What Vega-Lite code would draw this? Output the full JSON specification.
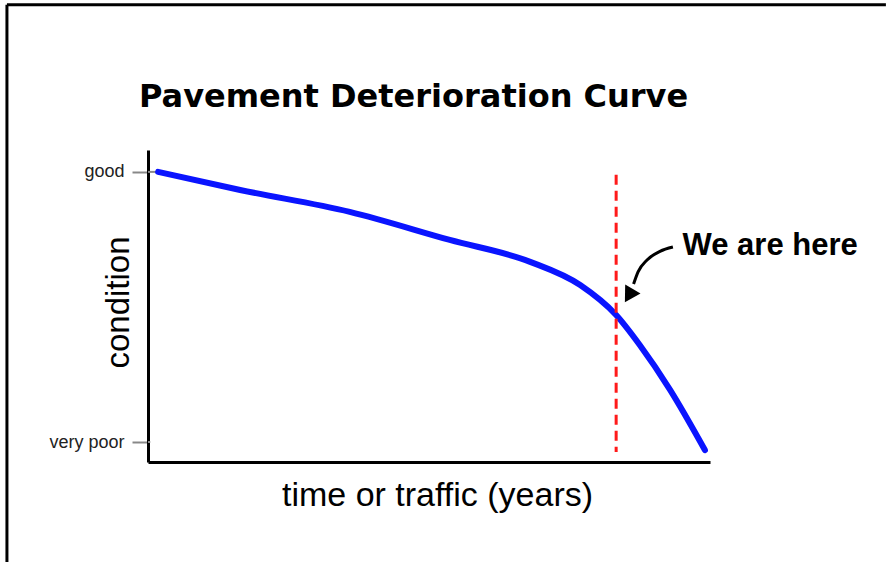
{
  "$schema": "https://vega.github.io/schema/vega-lite/v6.json",
  "width": 562,
  "height": 312,
  "autosize": "none",
  "padding": {"left": 148, "top": 150, "right": 176, "bottom": 100},
  "background": "white",
  "config": {"view": {"stroke": null}, "font": "Liberation Sans"},
  "title": {
    "text": "Pavement Deterioration Curve",
    "font": "DejaVu Sans",
    "fontWeight": "bold",
    "fontSize": 32,
    "anchor": "start",
    "frame": "group",
    "dx": -9,
    "offset": -136,
    "baseline": "alphabetic",
    "color": "black"
  },
  "datasets": {
    "curve": [
      {"x": 1.8, "y": 100},
      {"x": 16.4, "y": 93.3},
      {"x": 35.9, "y": 85.2},
      {"x": 53.7, "y": 74.8},
      {"x": 68.0, "y": 66.7},
      {"x": 76.9, "y": 58.1},
      {"x": 83.3, "y": 47.0},
      {"x": 87.5, "y": 35.9},
      {"x": 92.9, "y": 19.3},
      {"x": 99.1, "y": -3.0}
    ],
    "now": [{"x": 83.3, "y": 98.9, "y2": -3.7}],
    "arrow": [
      {"order": 1, "x": 93.4, "y": 72.2},
      {"order": 2, "x": 91.1, "y": 70.6},
      {"order": 3, "x": 88.8, "y": 67.4},
      {"order": 4, "x": 87.2, "y": 63.0},
      {"order": 5, "x": 86.4, "y": 58.5}
    ],
    "arrowhead": [{"x": 85.8, "y": 55.0}],
    "label": [{"x": 110.7, "y": 69.3, "text": "We are here"}],
    "frame": [
      {"x": -25.1, "x2": 131.3, "y": 161.9, "y2": 161.9},
      {"x": -25.1, "x2": -25.1, "y": 161.9, "y2": -44.4}
    ],
    "innerticks": [
      {"x": 0, "x2": 2.1, "y": 100, "y2": 100},
      {"x": 0, "x2": 0.4, "y": 0, "y2": 0}
    ]
  },
  "encoding": {
    "x": {
      "field": "x",
      "type": "quantitative",
      "scale": {"domain": [0, 100], "nice": false, "zero": false},
      "axis": {
        "title": "time or traffic (years)",
        "titleFont": "Liberation Sans",
        "titleFontSize": 34,
        "titleFontWeight": "normal",
        "titleColor": "black",
        "titleX": 289,
        "titleY": 43,
        "titleBaseline": "alphabetic",
        "titleAlign": "center",
        "labels": false,
        "ticks": false,
        "grid": false,
        "domainColor": "black",
        "domainWidth": 3
      }
    },
    "y": {
      "field": "y",
      "type": "quantitative",
      "scale": {"domain": [-7.4, 108.1], "nice": false, "zero": false},
      "axis": {
        "title": "condition",
        "titleFont": "Liberation Sans",
        "titleFontSize": 33,
        "titleFontWeight": "normal",
        "titleColor": "black",
        "titleAngle": -90,
        "titleX": -20,
        "titleY": 152,
        "titleBaseline": "alphabetic",
        "titleAlign": "center",
        "values": [0, 100],
        "labelExpr": "datum.value == 100 ? 'good' : 'very poor'",
        "labelFont": "Liberation Sans",
        "labelFontSize": 18,
        "labelColor": "#222",
        "labelPadding": 8,
        "tickColor": "#888",
        "tickSize": 16,
        "tickWidth": 2,
        "grid": false,
        "domainColor": "black",
        "domainWidth": 3
      }
    }
  },
  "layer": [
    {
      "data": {"name": "innerticks"},
      "mark": {"type": "rule", "color": "#888", "strokeWidth": 2},
      "encoding": {"x2": {"field": "x2"}, "y2": {"field": "y2"}}
    },
    {
      "data": {"name": "curve"},
      "mark": {"type": "line", "color": "#0a14ff", "strokeWidth": 6, "interpolate": "monotone", "strokeCap": "round"}
    },
    {
      "data": {"name": "now"},
      "mark": {"type": "rule", "color": "#ff1a1a", "strokeWidth": 3, "strokeDash": [10, 6]},
      "encoding": {"y2": {"field": "y2"}}
    },
    {
      "data": {"name": "arrow"},
      "mark": {"type": "line", "color": "black", "strokeWidth": 3, "interpolate": "monotone"},
      "encoding": {"order": {"field": "order", "type": "quantitative"}}
    },
    {
      "data": {"name": "arrowhead"},
      "mark": {"type": "point", "shape": "triangle", "angle": 211, "size": 320, "filled": true, "color": "black", "opacity": 1}
    },
    {
      "data": {"name": "label"},
      "mark": {"type": "text", "font": "Liberation Sans", "fontWeight": "bold", "fontSize": 31, "align": "center", "baseline": "alphabetic", "color": "black"},
      "encoding": {"text": {"field": "text"}}
    },
    {
      "data": {"name": "frame"},
      "mark": {"type": "rule", "color": "black", "strokeWidth": 3},
      "encoding": {"x2": {"field": "x2"}, "y2": {"field": "y2"}}
    }
  ]
}
